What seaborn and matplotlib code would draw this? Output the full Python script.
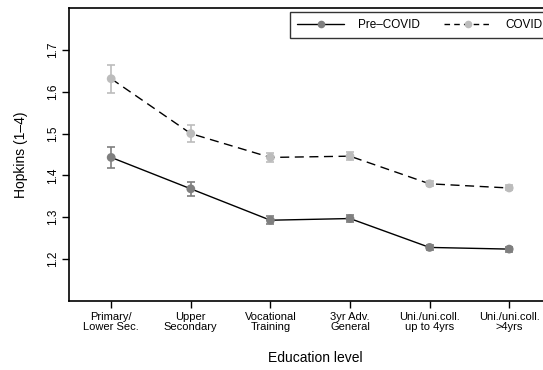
import matplotlib
matplotlib.use("Agg")
import matplotlib.pyplot as plt
from matplotlib.lines import Line2D
import numpy as np
import pandas as pd
import seaborn as sns

# Education categories and mean Hopkins scores with 95% CI half-widths
categories = ["Primary/\nLower Sec.", "Upper\nSecondary", "Vocational\nTraining",
              "3yr Adv.\nGeneral", "Uni./uni.coll.\nup to 4yrs", "Uni./uni.coll.\n>4yrs"]
pre_covid = [1.443, 1.368, 1.293, 1.297, 1.228, 1.224]
pre_covid_err = [0.025, 0.017, 0.010, 0.009, 0.006, 0.006]
covid = [1.631, 1.500, 1.443, 1.446, 1.380, 1.370]
covid_err = [0.034, 0.021, 0.010, 0.010, 0.006, 0.006]
y_ticks = [1.2, 1.3, 1.4, 1.5, 1.6, 1.7]

sns.set_style("white")
plt.rcParams["font.family"] = ["Liberation Sans", "DejaVu Sans"]
plt.rcParams["text.color"] = "black"
plt.rcParams["axes.labelcolor"] = "black"
plt.rcParams["xtick.color"] = "black"
plt.rcParams["ytick.color"] = "black"

pos = np.arange(len(categories))
df = pd.DataFrame({
    "pos": np.concatenate([pos, pos]),
    "value": pre_covid + covid,
    "err": pre_covid_err + covid_err,
    "period": ["Pre-COVID"] * len(pos) + ["COVID"] * len(pos),
})

fig = plt.figure(figsize=(5.43, 3.70), dpi=100)
W, H = 543, 370
ax = fig.add_axes([69 / W, (H - 301) / H, (562 - 69) / W, (301 - 8) / H])

marker_colors = {"Pre-COVID": "#7f7f7f", "COVID": "#bcbcbc"}
line_styles = {"Pre-COVID": "-", "COVID": (0, (6.5, 4))}

# connecting lines and confidence intervals
for name, sub in df.groupby("period", sort=False):
    sns.lineplot(data=sub, x="pos", y="value", color="black", lw=1.0,
                 linestyle=line_styles[name], ax=ax, legend=False, zorder=2)
    ax.errorbar(sub["pos"], sub["value"], yerr=sub["err"], fmt="none",
                ecolor=marker_colors[name], elinewidth=1.2, capsize=3,
                capthick=1.2, zorder=3)

# point markers
sns.scatterplot(data=df, x="pos", y="value", hue="period", palette=marker_colors,
                s=40, linewidth=0, ax=ax, legend=False, zorder=4)

ax.set_xlim(-0.53, -0.53 + (562 - 69) / 79.6)
ax.set_ylim(1.1, 1.8)
ax.set_xticks(pos)
ax.set_xticklabels(categories, fontsize=8, linespacing=0.95)
ax.set_yticks(y_ticks)
ax.set_yticklabels([f"{t:.1f}" for t in y_ticks], fontsize=8.5, rotation=90,
                   va="center")
ax.tick_params(axis="both", direction="out", length=5, width=1.0, color="black",
               left=True, bottom=True)
ax.tick_params(axis="x", pad=3)
ax.tick_params(axis="y", pad=2)

for side in ["left", "bottom", "top"]:
    ax.spines[side].set_visible(True)
    ax.spines[side].set_color("black")
    ax.spines[side].set_linewidth(1.2)
ax.spines["right"].set_visible(False)

ax.set_xlabel("Education level", fontsize=10, labelpad=14)
ax.set_ylabel("Hopkins (1\u20134)", fontsize=10, labelpad=14)

handles = [
    Line2D([], [], color="black", lw=1.0, marker="o", markersize=5.5,
           markerfacecolor=marker_colors["Pre-COVID"], markeredgewidth=0),
    Line2D([], [], color="black", lw=1.0, linestyle=(0, (4, 3)), marker="o",
           markersize=5.5, markerfacecolor=marker_colors["COVID"],
           markeredgewidth=0),
]
leg = ax.legend(handles, ["Pre\u2013COVID", "COVID"], ncol=2, fontsize=8.5,
                loc="upper left", bbox_to_anchor=((290 - 69) / (562 - 69), 1 - 4 / 293),
                frameon=True, fancybox=False, handlelength=4.0, columnspacing=2.0,
                handletextpad=1.2, borderpad=0.6, borderaxespad=0)
leg.get_frame().set_edgecolor("black")
leg.get_frame().set_linewidth(1.0)

fig.savefig("out.png", dpi=100)
